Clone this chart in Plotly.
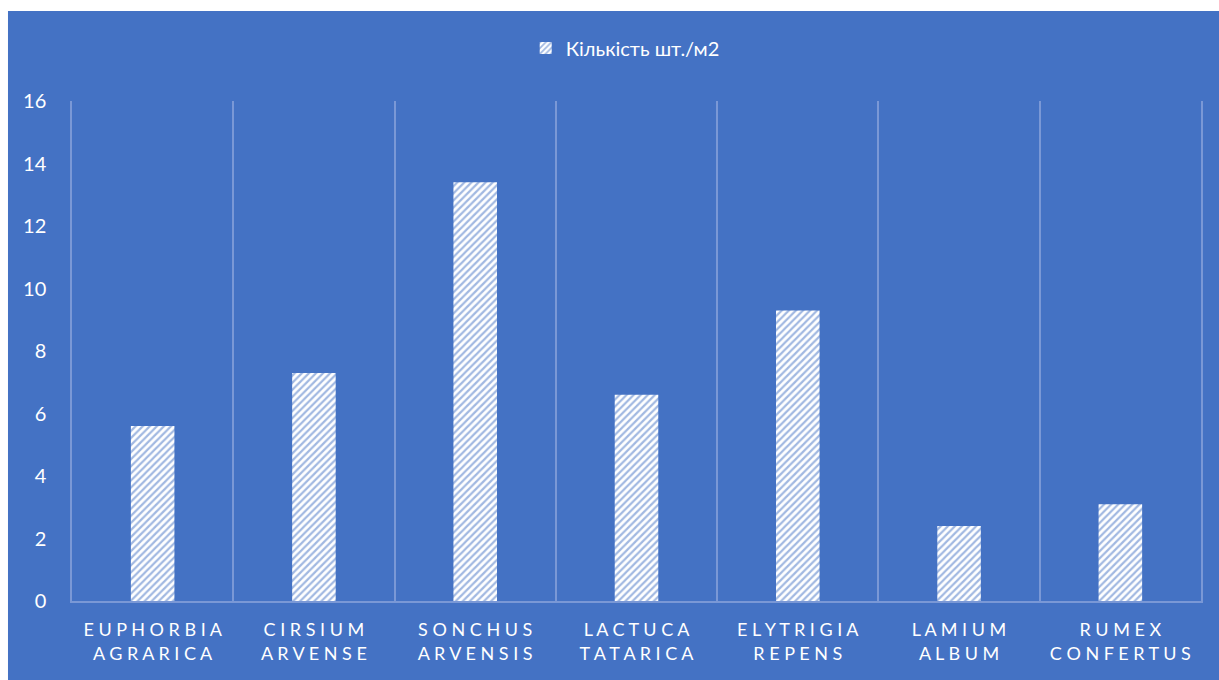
import plotly.graph_objects as go

categories = ["Euphorbia agrarica", "Cirsium arvense", "Sonchus arvensis", "Lactuca tatarica",
              "Elytrigia repens", "Lamium album", "Rumex confertus"]
values = [5.6, 7.3, 13.4, 6.6, 9.3, 2.4, 3.1]
series_name = "Кількість шт./м2"
y_ticks = [0, 2, 4, 6, 8, 10, 12, 14, 16]

BLUE = "#4472C4"
GRID = "#7a98d6"
TXT = "#ffffff"


def spaced(name):
    words = name.upper().split(" ")
    return "<br>".join(" ".join(w) for w in words)


ticktext = [spaced(c) for c in categories]

fig = go.Figure()
fig.add_trace(go.Bar(
    x=categories, y=values, name=series_name,
    marker=dict(color="white", line=dict(width=0),
                pattern=dict(shape="/", fgcolor=BLUE, bgcolor="white", size=5, solidity=0.45)),
    showlegend=True,
))

fig.add_shape(type="rect", xref="paper", yref="paper", x0=-0.0567, x1=1.1, y0=-0.3, y1=1.18,
              fillcolor=BLUE, line=dict(width=0), layer="below")

fig.update_layout(
    width=1219, height=680,
    paper_bgcolor="white", plot_bgcolor=BLUE,
    margin=dict(l=72, r=18, t=101, b=79),
    font=dict(family="Lato, 'Open Sans', sans-serif", color=TXT, size=17),
    bargap=0.73,
    showlegend=True,
    legend=dict(orientation="h", x=0.49, xanchor="center", y=1.106, yanchor="middle",
                font=dict(size=20, color=TXT), bgcolor="rgba(0,0,0,0)", itemwidth=30),
    xaxis=dict(type="category", tickmode="array", tickvals=categories, ticktext=ticktext,
               tickson="boundaries", showgrid=True, gridcolor=GRID, gridwidth=1.5,
               showline=True, linecolor=GRID, linewidth=1.5, ticks="",
               ticklabelstandoff=12,
               tickfont=dict(size=18, color=TXT), range=[-0.5, 6.5]),
    yaxis=dict(range=[0, 16], tickvals=y_ticks, showgrid=False, zeroline=False,
               showline=True, mirror=True, linecolor=GRID, linewidth=1.5,
               ticks="", ticklabelstandoff=20, tickfont=dict(size=20, color=TXT)),
)

fig.write_html("out.html")
